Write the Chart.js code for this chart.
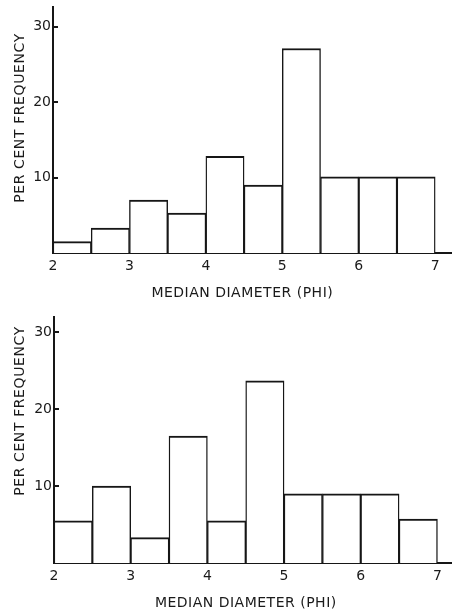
<!DOCTYPE html>
<html>
<head>
<meta charset="utf-8">
<script src="https://cdn.jsdelivr.net/npm/chart.js@4.4.1/dist/chart.umd.min.js"></script>
<style>
  html, body { margin: 0; padding: 0; background: #fff; }
  body { width: 452px; height: 612px; position: relative; overflow: hidden; }
  .wrap { position: absolute; left: 0; width: 452px; }
  .ttl { position: absolute; font-family: "DejaVu Sans", sans-serif; font-size: 14px; color: #1a1a1a; white-space: nowrap; letter-spacing: 0.5px; }
  .ytl { transform: translate(-50%, -50%) rotate(-90deg); letter-spacing: 0.6px; }
  .xtl { transform: translate(-50%, -50%); }
</style>
</head>
<body>
<div class="wrap" style="top:0;height:305px;"><canvas id="c1" width="452" height="305"></canvas></div>
<div class="wrap" style="top:305px;height:307px;"><canvas id="c2" width="452" height="307"></canvas></div>
<div class="ttl ytl" style="left:18.7px;top:117.5px;">PER CENT FREQUENCY</div>
<div class="ttl xtl" style="left:242.3px;top:292.3px;">MEDIAN DIAMETER (PHI)</div>
<div class="ttl ytl" style="left:18.7px;top:411px;">PER CENT FREQUENCY</div>
<div class="ttl xtl" style="left:245.8px;top:601.7px;">MEDIAN DIAMETER (PHI)</div>
<script>
// Bin centres (phi), half-phi classes from 2 to 7
const binCenters = [2.25, 2.75, 3.25, 3.75, 4.25, 4.75, 5.25, 5.75, 6.25, 6.75];
// Upper histogram: per cent frequency
const upperValues = [1.5, 3.3, 7.0, 5.3, 12.8, 9.0, 27.1, 10.1, 10.1, 10.1];
// Lower histogram: per cent frequency
const lowerValues = [5.5, 10.0, 3.3, 16.5, 5.5, 23.7, 9.0, 9.0, 9.0, 5.7];
const xTickValues = [2, 3, 4, 5, 6, 7];
const yTickValues = [10, 20, 30];

const INK = '#161616';

function makeChart(id, values, cfg) {
  return new Chart(document.getElementById(id), {
    type: 'bar',
    data: {
      datasets: [{
        data: binCenters.map((x, i) => ({ x: x, y: values[i] })),
        backgroundColor: '#ffffff',
        borderColor: INK,
        borderWidth: { top: 2, left: 1.4, right: 1.4, bottom: 0 },
        borderSkipped: 'bottom',
        barPercentage: 1,
        categoryPercentage: 1
      }]
    },
    options: {
      responsive: false,
      animation: false,
      events: [],
      layout: { padding: { top: cfg.top, right: 0, left: 0, bottom: 0 } },
      plugins: { legend: { display: false }, tooltip: { enabled: false }, title: { display: false } },
      scales: {
        x: {
          type: 'linear',
          offset: false,
          min: 2,
          max: cfg.xmax,
          grid: { display: false, drawTicks: false, offset: false },
          border: { display: true, color: INK, width: 2 },
          afterBuildTicks: s => { s.ticks = xTickValues.map(v => ({ value: v })); },
          afterFit: s => { s.height = cfg.xh; s.paddingLeft = 0; s.paddingRight = 0; },
          ticks: {
            padding: 5,
            color: '#1a1a1a',
            font: { family: 'DejaVu Sans', size: 14 },
            callback: v => String(v)
          }
        },
        y: {
          min: 0,
          max: cfg.ymax,
          grid: { drawOnChartArea: false, drawTicks: true, tickLength: -5, color: INK, lineWidth: 2 },
          border: { display: true, color: INK, width: 2 },
          afterBuildTicks: s => { s.ticks = yTickValues.map(v => ({ value: v })); },
          afterFit: s => { s.width = cfg.left; s.paddingTop = 0; s.paddingBottom = 0; },
          ticks: {
            padding: 7,
            color: '#1a1a1a',
            font: { family: 'DejaVu Sans', size: 14 },
            callback: v => String(v)
          }
        }
      }
    }
  });
}

makeChart('c1', upperValues, { top: 7, xmax: 7.22, xh: 52, ymax: 32.6, left: 53 });
makeChart('c2', lowerValues, { top: 12, xmax: 7.19, xh: 49, ymax: 32, left: 54 });
</script>
</body>
</html>
